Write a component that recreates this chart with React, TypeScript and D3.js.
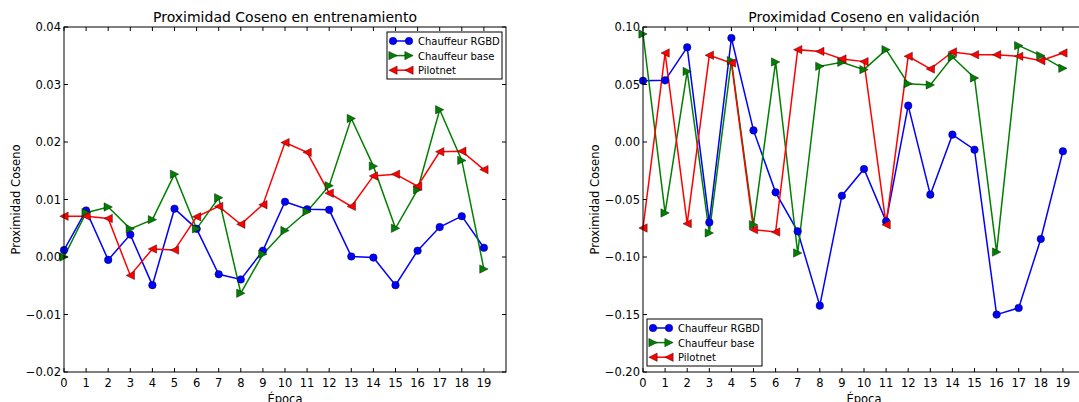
import React, { useRef, useEffect } from 'react';
import * as d3 from 'd3';

// epochs 0..19
const epochs = d3.range(20);

// training values
const trainRgbd = [0.0012, 0.0081, -0.0005, 0.0039, -0.0049, 0.0084, 0.0049, -0.0030, -0.0039, 0.0011,
  0.0096, 0.0083, 0.0082, 0.0001, -0.0001, -0.0049, 0.0011, 0.0052, 0.0071, 0.0016];
const trainBase = [0.0000, 0.0077, 0.0087, 0.0049, 0.0065, 0.0144, 0.0049, 0.0103, -0.0063, 0.0005,
  0.0046, 0.0079, 0.0124, 0.0241, 0.0158, 0.0050, 0.0117, 0.0256, 0.0168, -0.0021];
const trainPilot = [0.0071, 0.0071, 0.0067, -0.0032, 0.0014, 0.0012, 0.0070, 0.0088, 0.0057, 0.0091,
  0.0199, 0.0182, 0.0111, 0.0088, 0.0141, 0.0144, 0.0123, 0.0183, 0.0184, 0.0152];

// validation values
const valRgbd = [0.0533, 0.0536, 0.0823, -0.0699, 0.0904, 0.0101, -0.0438, -0.0777, -0.1423, -0.0467,
  -0.0235, -0.0690, 0.0316, -0.0458, 0.0064, -0.0067, -0.1501, -0.1443, -0.0843, -0.0081];
const valBase = [0.0939, -0.0617, 0.0614, -0.0791, 0.0707, -0.0719, 0.0696, -0.0965, 0.0658, 0.0693,
  0.0629, 0.0803, 0.0507, 0.0496, 0.0739, 0.0557, -0.0957, 0.0838, 0.0751, 0.0641];
const valPilot = [-0.0748, 0.0774, -0.0710, 0.0754, 0.0687, -0.0762, -0.0783, 0.0803, 0.0788, 0.0722,
  0.0699, -0.0719, 0.0745, 0.0635, 0.0783, 0.0759, 0.0759, 0.0745, 0.0707, 0.0774];

const seriesNames = ['Chauffeur RGBD', 'Chauffeur base', 'Pilotnet'];
const seriesColors = ['#0000ff', '#008000', '#ff0000'];
const seriesMarkers = ['circle', 'right', 'left'];

const trainYTicks = [-0.02, -0.01, 0.0, 0.01, 0.02, 0.03, 0.04];
const valYTicks = [-0.20, -0.15, -0.10, -0.05, 0.0, 0.05, 0.10];

const FONT = '"DejaVu Sans", sans-serif';

function drawMarker(g, type, x, y, color) {
  if (type === 'circle') {
    g.append('circle').attr('cx', x).attr('cy', y).attr('r', 3.8)
      .attr('fill', color).attr('stroke', '#000').attr('stroke-width', 0.4);
  } else {
    const s = 4.2;
    const pts = type === 'right'
      ? [[x + s, y], [x - s, y - s], [x - s, y + s]]
      : [[x - s, y], [x + s, y - s], [x + s, y + s]];
    g.append('polygon').attr('points', pts.map(p => p.join(',')).join(' '))
      .attr('fill', color).attr('stroke', '#000').attr('stroke-width', 0.4);
  }
}

function drawPanel(svg, opts) {
  const { left, top, width, height, yDomain, yTicks, yFmt, title, data, legend } = opts;
  const g = svg.append('g').attr('transform', `translate(${left},${top})`);

  const x = d3.scaleLinear().domain([0, 20]).range([0, width]);
  const y = d3.scaleLinear().domain(yDomain).range([height, 0]);

  // lines + markers
  data.forEach((vals, i) => {
    const line = d3.line().x((d, j) => x(epochs[j])).y(d => y(d));
    g.append('path').datum(vals).attr('d', line)
      .attr('fill', 'none').attr('stroke', seriesColors[i]).attr('stroke-width', 1.5);
  });
  data.forEach((vals, i) => {
    vals.forEach((v, j) => drawMarker(g, seriesMarkers[i], x(epochs[j]), y(v), seriesColors[i]));
  });

  // frame
  g.append('rect').attr('width', width).attr('height', height)
    .attr('fill', 'none').attr('stroke', '#000').attr('stroke-width', 1);

  // ticks (inward, all sides)
  const tl = 4;
  epochs.forEach(t => {
    const xx = x(t);
    g.append('line').attr('x1', xx).attr('x2', xx).attr('y1', height).attr('y2', height - tl).attr('stroke', '#000');
    g.append('line').attr('x1', xx).attr('x2', xx).attr('y1', 0).attr('y2', tl).attr('stroke', '#000');
    g.append('text').attr('x', xx).attr('y', height + 15).attr('text-anchor', 'middle')
      .attr('font-family', FONT).attr('font-size', 11.5).text(t);
  });
  yTicks.forEach(t => {
    const yy = y(t);
    g.append('line').attr('x1', 0).attr('x2', tl).attr('y1', yy).attr('y2', yy).attr('stroke', '#000');
    g.append('line').attr('x1', width).attr('x2', width - tl).attr('y1', yy).attr('y2', yy).attr('stroke', '#000');
    g.append('text').attr('x', -3).attr('y', yy + 4).attr('text-anchor', 'end')
      .attr('font-family', FONT).attr('font-size', 11.5).text(yFmt(t));
  });

  // title and labels
  g.append('text').attr('x', width / 2).attr('y', -5).attr('text-anchor', 'middle')
    .attr('font-family', FONT).attr('font-size', 14).text(title);
  g.append('text').attr('x', width / 2).attr('y', height + 31).attr('text-anchor', 'middle')
    .attr('font-family', FONT).attr('font-size', 11.5).text('Época');
  g.append('text').attr('transform', `translate(${-44},${height / 2}) rotate(-90)`)
    .attr('text-anchor', 'middle').attr('font-family', FONT).attr('font-size', 11.5).text('Proximidad Coseno');

  // legend
  const lg = g.append('g').attr('transform', `translate(${legend.x},${legend.y})`);
  lg.append('rect').attr('width', 115).attr('height', 47)
    .attr('fill', '#fff').attr('stroke', '#000').attr('stroke-width', 1);
  seriesNames.forEach((name, i) => {
    const yy = 9 + i * 14.6;
    lg.append('line').attr('x1', 6).attr('x2', 22).attr('y1', yy).attr('y2', yy)
      .attr('stroke', seriesColors[i]).attr('stroke-width', 1.5);
    drawMarker(lg, seriesMarkers[i], 6, yy, seriesColors[i]);
    drawMarker(lg, seriesMarkers[i], 22, yy, seriesColors[i]);
    lg.append('text').attr('x', 31).attr('y', yy + 4).attr('font-family', FONT).attr('font-size', 10)
      .text(name);
  });
}

function App() {
  const ref = useRef(null);

  useEffect(() => {
    const svg = d3.select(ref.current);
    svg.selectAll('*').remove();
    svg.append('rect').attr('width', 1079).attr('height', 402).attr('fill', '#fff');

    const fmt2 = v => d3.format('.2f')(v).replace('-', '\u2212');

    drawPanel(svg, {
      left: 64, top: 27, width: 442, height: 345,
      yDomain: [-0.02, 0.04], yTicks: trainYTicks, yFmt: fmt2,
      title: 'Proximidad Coseno en entrenamiento',
      data: [trainRgbd, trainBase, trainPilot],
      legend: { x: 323, y: 5 },
    });
    drawPanel(svg, {
      left: 643, top: 27, width: 442, height: 345,
      yDomain: [-0.20, 0.10], yTicks: valYTicks, yFmt: fmt2,
      title: 'Proximidad Coseno en validación',
      data: [valRgbd, valBase, valPilot],
      legend: { x: 4, y: 292 },
    });
  }, []);

  return (
    <svg ref={ref} width={1079} height={402}
      style={{ position: 'absolute', left: 0, top: 0, display: 'block' }} />
  );
}

export default App;
